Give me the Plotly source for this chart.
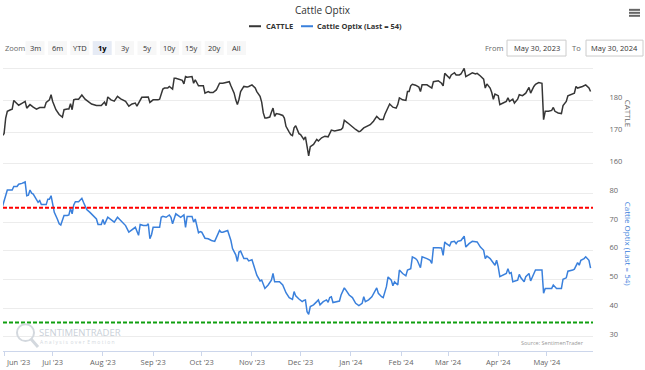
import plotly.graph_objects as go

# ---------------- data ----------------
cattle_dates = [
    "2023-05-31","2023-06-01","2023-06-02","2023-06-03","2023-06-05","2023-06-06","2023-06-07","2023-06-08",
    "2023-06-10","2023-06-12","2023-06-14","2023-06-15","2023-06-17","2023-06-19","2023-06-21","2023-06-23",
    "2023-06-26","2023-06-27","2023-06-29","2023-06-30","2023-07-01","2023-07-03","2023-07-05","2023-07-07",
    "2023-07-08","2023-07-10","2023-07-11","2023-07-12","2023-07-13","2023-07-14","2023-07-15","2023-07-17",
    "2023-07-19","2023-07-21","2023-07-23","2023-07-25","2023-07-28","2023-07-31","2023-08-02","2023-08-03",
    "2023-08-04","2023-08-06","2023-08-08","2023-08-10","2023-08-12","2023-08-15","2023-08-17","2023-08-19",
    "2023-08-21","2023-08-22","2023-08-25","2023-08-28","2023-08-29","2023-08-30","2023-09-01","2023-09-04",
    "2023-09-05","2023-09-07","2023-09-08","2023-09-10","2023-09-11","2023-09-13","2023-09-14","2023-09-15",
    "2023-09-17","2023-09-19","2023-09-20","2023-09-21","2023-09-22","2023-09-25","2023-09-26","2023-09-27",
    "2023-09-29","2023-10-01","2023-10-02","2023-10-03","2023-10-05","2023-10-06","2023-10-08","2023-10-10",
    "2023-10-12","2023-10-14","2023-10-16","2023-10-18","2023-10-19","2023-10-21","2023-10-22","2023-10-23",
    "2023-10-24","2023-10-25","2023-10-27","2023-10-29","2023-10-30","2023-11-01","2023-11-03","2023-11-04",
    "2023-11-06","2023-11-07","2023-11-08","2023-11-09","2023-11-10","2023-11-12","2023-11-13","2023-11-14",
    "2023-11-15","2023-11-16","2023-11-18","2023-11-20","2023-11-21","2023-11-22","2023-11-24","2023-11-25",
    "2023-11-26","2023-11-27","2023-11-28","2023-11-29","2023-11-30","2023-12-01","2023-12-03","2023-12-04",
    "2023-12-05","2023-12-06","2023-12-07","2023-12-09","2023-12-11","2023-12-12","2023-12-14","2023-12-16",
    "2023-12-18","2023-12-20","2023-12-22","2023-12-24","2023-12-26","2023-12-27","2023-12-28","2023-12-30",
    "2024-01-02","2024-01-04","2024-01-06","2024-01-07","2024-01-09","2024-01-11","2024-01-13","2024-01-15",
    "2024-01-17","2024-01-19","2024-01-21","2024-01-22","2024-01-24","2024-01-25","2024-01-27","2024-01-29",
    "2024-01-30","2024-01-31","2024-02-02","2024-02-04","2024-02-05","2024-02-06","2024-02-07","2024-02-08",
    "2024-02-10","2024-02-12","2024-02-13","2024-02-14","2024-02-17","2024-02-19","2024-02-20","2024-02-21",
    "2024-02-24","2024-02-26","2024-02-27","2024-02-28","2024-02-29","2024-03-02","2024-03-03","2024-03-05",
    "2024-03-06","2024-03-07","2024-03-08","2024-03-09","2024-03-11","2024-03-12","2024-03-14","2024-03-16",
    "2024-03-18","2024-03-19","2024-03-21","2024-03-23","2024-03-24","2024-03-25","2024-03-27","2024-03-28",
    "2024-03-29","2024-03-30","2024-04-01","2024-04-02","2024-04-04","2024-04-06","2024-04-07","2024-04-08",
    "2024-04-10","2024-04-11","2024-04-13","2024-04-14","2024-04-16","2024-04-18","2024-04-20","2024-04-21",
    "2024-04-23","2024-04-24","2024-04-26","2024-04-28","2024-04-29","2024-04-30","2024-05-02","2024-05-04",
    "2024-05-05","2024-05-06","2024-05-08","2024-05-10","2024-05-11","2024-05-12","2024-05-13","2024-05-14",
    "2024-05-17","2024-05-18","2024-05-19","2024-05-20","2024-05-23","2024-05-25","2024-05-27","2024-05-28",
]
cattle_values = [
    168.9,169.5,174.4,176.5,177.0,177.2,179.9,179.3,
    178.4,179.0,179.6,177.5,178.6,177.8,177.2,177.7,
    177.7,179.3,180.1,181.7,179.6,177.0,175.5,174.7,
    177.0,177.2,177.2,178.9,177.0,180.1,180.3,180.3,
    181.6,180.3,179.6,178.8,178.3,178.3,179.4,178.3,
    181.0,180.1,179.7,181.2,180.4,179.6,178.1,178.8,
    179.1,178.1,180.9,181.0,181.0,179.3,180.1,180.1,
    180.3,183.5,183.8,183.8,184.3,183.5,186.9,186.9,
    186.6,186.2,185.1,187.4,187.2,187.4,185.3,186.4,
    184.5,184.5,184.5,182.2,182.7,182.4,182.4,183.2,
    185.3,185.3,185.5,185.8,184.5,182.2,180.1,178.6,
    180.3,182.7,184.3,184.1,184.3,184.8,183.8,182.7,
    181.2,179.4,176.0,174.4,174.4,174.7,176.2,177.5,
    174.9,175.8,175.6,175.2,174.4,171.8,170.0,169.2,
    168.9,171.3,172.0,170.8,169.5,169.2,167.7,168.5,
    164.6,162.5,165.4,166.1,167.7,167.2,168.2,168.7,
    168.5,170.6,170.3,170.5,170.8,171.3,173.7,172.9,
    171.5,170.8,170.1,170.3,171.3,171.8,172.3,173.4,
    174.9,173.9,173.9,175.5,178.1,178.8,177.8,177.5,
    178.6,180.7,180.1,179.9,182.7,182.7,184.5,185.0,
    184.7,184.1,182.7,184.8,184.8,184.1,183.8,185.8,
    186.1,185.3,184.5,188.4,187.9,186.9,187.9,188.6,
    187.9,187.9,187.9,188.2,190.0,187.4,187.9,188.6,
    188.2,188.4,187.6,186.6,183.8,185.1,183.8,182.4,
    180.3,181.9,181.4,178.6,179.1,179.6,180.7,179.6,
    180.3,179.1,180.3,181.7,181.4,182.2,184.0,182.2,
    184.3,185.0,185.5,185.3,173.9,176.5,176.5,176.8,
    177.7,176.5,176.0,175.8,178.3,178.9,179.6,181.4,
    181.9,182.2,184.3,183.8,184.3,184.8,183.8,182.7,
]

optix_dates = [
    "2023-05-31","2023-06-02","2023-06-03","2023-06-06","2023-06-07","2023-06-09","2023-06-10","2023-06-12",
    "2023-06-14","2023-06-15","2023-06-16","2023-06-17","2023-06-18","2023-06-19","2023-06-21","2023-06-22",
    "2023-06-23","2023-06-24","2023-06-25","2023-06-27","2023-06-28","2023-06-29","2023-06-30","2023-07-01",
    "2023-07-02","2023-07-04","2023-07-05","2023-07-06","2023-07-08","2023-07-10","2023-07-11","2023-07-12",
    "2023-07-13","2023-07-14","2023-07-15","2023-07-17","2023-07-19","2023-07-20","2023-07-22","2023-07-24",
    "2023-07-26","2023-07-28","2023-07-29","2023-07-31","2023-08-01","2023-08-02","2023-08-04","2023-08-06",
    "2023-08-08","2023-08-10","2023-08-12","2023-08-15","2023-08-17","2023-08-19","2023-08-21","2023-08-23",
    "2023-08-24","2023-08-26","2023-08-28","2023-08-29","2023-08-30","2023-08-31","2023-09-01","2023-09-02",
    "2023-09-05","2023-09-06","2023-09-07","2023-09-09","2023-09-11","2023-09-12","2023-09-13","2023-09-15",
    "2023-09-16","2023-09-18","2023-09-20","2023-09-21","2023-09-22","2023-09-25","2023-09-26","2023-09-27",
    "2023-09-29","2023-09-30","2023-10-01","2023-10-03","2023-10-05","2023-10-07","2023-10-09","2023-10-12",
    "2023-10-13","2023-10-14","2023-10-17","2023-10-19","2023-10-20","2023-10-22","2023-10-23","2023-10-24",
    "2023-10-25","2023-10-27","2023-10-29","2023-10-30","2023-11-01","2023-11-03","2023-11-04","2023-11-06",
    "2023-11-07","2023-11-09","2023-11-11","2023-11-13","2023-11-14","2023-11-15","2023-11-18","2023-11-20",
    "2023-11-22","2023-11-24","2023-11-26","2023-11-27","2023-11-28","2023-11-30","2023-12-02","2023-12-03",
    "2023-12-04","2023-12-05","2023-12-06","2023-12-07","2023-12-09","2023-12-11","2023-12-12","2023-12-13",
    "2023-12-15","2023-12-17","2023-12-18","2023-12-19","2023-12-20","2023-12-21","2023-12-23","2023-12-25",
    "2023-12-26","2023-12-28","2023-12-29","2023-12-31","2024-01-02","2024-01-04","2024-01-06","2024-01-08",
    "2024-01-09","2024-01-10","2024-01-12","2024-01-14","2024-01-17","2024-01-18","2024-01-20","2024-01-21",
    "2024-01-23","2024-01-24","2024-01-26","2024-01-27","2024-01-28","2024-01-30","2024-01-31","2024-02-02",
    "2024-02-04","2024-02-05","2024-02-07","2024-02-08","2024-02-10","2024-02-11","2024-02-13","2024-02-14",
    "2024-02-17","2024-02-19","2024-02-20","2024-02-21","2024-02-24","2024-02-26","2024-02-27","2024-02-28",
    "2024-02-29","2024-03-02","2024-03-03","2024-03-05","2024-03-06","2024-03-07","2024-03-09","2024-03-11",
    "2024-03-12","2024-03-14","2024-03-16","2024-03-19","2024-03-21","2024-03-23","2024-03-24","2024-03-25",
    "2024-03-27","2024-03-29","2024-03-30","2024-03-31","2024-04-01","2024-04-02","2024-04-04","2024-04-06",
    "2024-04-07","2024-04-08","2024-04-09","2024-04-10","2024-04-13","2024-04-14","2024-04-15","2024-04-17",
    "2024-04-18","2024-04-20","2024-04-21","2024-04-23","2024-04-24","2024-04-26","2024-04-28","2024-04-29",
    "2024-04-30","2024-05-02","2024-05-04","2024-05-05","2024-05-07","2024-05-10","2024-05-11","2024-05-13",
    "2024-05-14","2024-05-17","2024-05-18","2024-05-20","2024-05-21","2024-05-22","2024-05-24","2024-05-25",
    "2024-05-27","2024-05-28",
]
optix_values = [
    75.4,79.4,81.2,81.2,82.4,82.4,83.2,83.5,
    84.0,79.2,79.4,81.2,80.1,79.8,78.0,76.9,
    77.5,76.1,76.1,76.1,78.0,78.0,79.2,75.7,
    73.4,70.9,69.4,69.0,72.3,72.3,72.5,74.8,
    72.9,76.0,77.1,77.1,78.3,76.9,74.4,73.4,
    72.3,71.1,69.2,69.2,70.9,69.2,71.7,70.8,
    70.0,71.7,70.5,68.8,66.5,67.4,68.2,65.4,
    69.2,68.8,68.8,69.4,64.2,65.6,68.2,68.2,
    68.2,71.7,72.0,71.7,72.5,71.7,69.4,72.9,
    72.5,71.7,72.5,68.2,72.0,72.0,70.0,71.1,
    66.3,66.7,66.5,64.4,64.2,63.6,63.3,67.1,
    66.5,66.5,67.1,63.6,60.8,58.6,56.3,59.6,
    59.9,57.3,57.3,56.5,56.9,53.3,51.5,49.5,
    49.8,46.9,48.1,49.8,52.1,49.2,49.2,48.1,
    45.4,43.7,43.1,45.8,44.3,43.2,42.3,42.7,
    42.9,38.8,37.9,40.6,41.2,42.3,42.9,41.2,
    42.3,42.9,42.1,43.7,44.0,42.0,42.3,42.5,
    44.6,47.1,46.3,44.6,43.7,41.7,40.9,41.7,
    44.0,42.3,42.9,44.0,47.1,45.2,44.0,43.7,
    47.5,50.9,49.8,47.8,49.2,48.1,53.3,52.1,
    51.3,53.3,53.8,57.9,57.3,56.7,54.1,57.9,
    57.3,56.7,55.6,61.1,61.1,61.0,58.4,63.1,
    62.5,61.7,63.1,63.3,62.5,63.3,63.6,65.1,
    61.3,62.5,63.3,63.1,61.3,60.2,57.3,58.2,
    57.3,55.9,55.0,56.7,54.4,51.0,51.5,52.1,
    53.8,52.1,52.4,49.2,49.8,51.8,50.6,49.2,
    51.0,52.1,49.5,52.4,53.3,53.3,53.3,45.2,
    46.9,46.9,46.9,48.1,46.9,46.9,50.1,50.6,
    52.9,53.3,53.6,55.9,55.0,56.7,57.3,57.9,
    56.7,54.0,
]

upper_band = 75
lower_band = 35
last_value = 54

month_ticks = ["2023-06-01","2023-07-01","2023-08-01","2023-09-01","2023-10-01","2023-11-01",
               "2023-12-01","2024-01-01","2024-02-01","2024-03-01","2024-04-01","2024-05-01"]
month_labels = ["Jun '23","Jul '23","Aug '23","Sep '23","Oct '23","Nov '23",
                "Dec '23","Jan '24","Feb '24","Mar '24","Apr '24","May '24"]
cattle_ticks = [160, 170, 180, 190]
cattle_tick_labels = ["160", "170", "180", ""]
optix_ticks = [30, 40, 50, 60, 70, 80]
zoom_buttons = ["3m", "6m", "YTD", "1y", "3y", "5y", "10y", "15y", "20y", "All"]
selected_button = "1y"
from_date = "May 30, 2023"
to_date = "May 30, 2024"

# ---------------- layout helpers ----------------
W, H = 645, 370
L, R, T, B = 3, 593, 60, 353
PW, PH = R - L, B - T


def px(x):
    return (x - L) / PW


def py(y):
    return (B - y) / PH


FONT = "Open Sans, DejaVu Sans, sans-serif"
CATTLE_COLOR = "#363636"
OPTIX_COLOR = "#3a80dc"

fig = go.Figure()
fig.add_trace(go.Scatter(x=cattle_dates, y=cattle_values, mode="lines", name="CATTLE",
                         line=dict(color=CATTLE_COLOR, width=1.5), xaxis="x", yaxis="y"))
fig.add_trace(go.Scatter(x=optix_dates, y=optix_values, mode="lines",
                         name=f"Cattle Optix (Last = {last_value})",
                         line=dict(color=OPTIX_COLOR, width=1.5), xaxis="x", yaxis="y2"))

shapes = [
    dict(type="line", xref="x domain", yref="y2", x0=0, x1=1, y0=upper_band, y1=upper_band,
         line=dict(color="#ff0000", width=2, dash="4px,2px")),
    dict(type="line", xref="x domain", yref="y2", x0=0, x1=1, y0=lower_band, y1=lower_band,
         line=dict(color="#10a010", width=2, dash="4px,2px")),
]

annotations = []

# rotated axis titles on the right
annotations.append(dict(text="CATTLE", xref="paper", yref="paper", x=px(628), y=py(114),
                        xanchor="center", yanchor="middle",
                        textangle=90, showarrow=False, font=dict(size=8, color="#666666", family=FONT)))
annotations.append(dict(text=f"Cattle Optix (Last = {last_value})", xref="paper", yref="paper",
                        x=px(628), y=py(245), xanchor="center", yanchor="middle",
                        textangle=90, showarrow=False,
                        font=dict(size=8, color=OPTIX_COLOR, family=FONT)))

# first month label kept inside like Highcharts
annotations.append(dict(text=month_labels[0], xref="x", yref="paper", x=month_ticks[0], y=py(364),
                        xanchor="left", yanchor="middle", showarrow=False,
                        font=dict(size=7.5, color="#666666", family=FONT)))

# legend (manual)
shapes.append(dict(type="line", xref="paper", yref="paper", x0=px(249), x1=px(261), y0=py(26), y1=py(26),
                   line=dict(color=CATTLE_COLOR, width=2)))
annotations.append(dict(text="<b>CATTLE</b>", xref="paper", yref="paper", x=px(264), y=py(26),
                        xanchor="left", yanchor="middle", showarrow=False,
                        font=dict(size=7.5, color="#333333", family=FONT)))
shapes.append(dict(type="line", xref="paper", yref="paper", x0=px(301), x1=px(313), y0=py(26), y1=py(26),
                   line=dict(color=OPTIX_COLOR, width=2)))
annotations.append(dict(text=f"<b>Cattle Optix (Last = {last_value})</b>", xref="paper", yref="paper",
                        x=px(315), y=py(26), xanchor="left", yanchor="middle", showarrow=False,
                        font=dict(size=7.5, color="#333333", family=FONT)))

# range selector imitation
annotations.append(dict(text="Zoom", xref="paper", yref="paper", x=px(3), y=py(48), xanchor="left",
                        yanchor="middle", showarrow=False, font=dict(size=7.5, color="#666666", family=FONT)))
for i, lab in enumerate(zoom_buttons):
    cx = 35 + i * 22.4
    sel = lab == selected_button
    shapes.append(dict(type="rect", xref="paper", yref="paper", x0=px(cx - 9.5), x1=px(cx + 9.5),
                       y0=py(55), y1=py(41), line=dict(width=0),
                       fillcolor="#e6ebf5" if sel else "#f7f7f7"))
    annotations.append(dict(text=f"<b>{lab}</b>" if sel else lab, xref="paper", yref="paper", x=px(cx),
                            y=py(48), xanchor="center", yanchor="middle", showarrow=False,
                            font=dict(size=7.5, color="#000000" if sel else "#333333", family=FONT)))

annotations.append(dict(text="From", xref="paper", yref="paper", x=px(494), y=py(48), xanchor="center",
                        yanchor="middle", showarrow=False, font=dict(size=7.5, color="#666666", family=FONT)))
annotations.append(dict(text="To", xref="paper", yref="paper", x=px(576), y=py(48), xanchor="center",
                        yanchor="middle", showarrow=False, font=dict(size=7.5, color="#666666", family=FONT)))
for x0, x1, txt in [(507, 566, from_date), (586, 643, to_date)]:
    shapes.append(dict(type="rect", xref="paper", yref="paper", x0=px(x0), x1=px(x1), y0=py(56), y1=py(40),
                       line=dict(width=1, color="#cccccc"), fillcolor="#ffffff"))
    annotations.append(dict(text=txt, xref="paper", yref="paper", x=px((x0 + x1) / 2), y=py(48),
                            xanchor="center", yanchor="middle", showarrow=False,
                            font=dict(size=7.5, color="#333333", family=FONT)))

# hamburger menu
for yy in (9.5, 12.5, 15.5):
    shapes.append(dict(type="line", xref="paper", yref="paper", x0=px(629), x1=px(640), y0=py(yy), y1=py(yy),
                       line=dict(color="#666666", width=2)))

# watermark
shapes.append(dict(type="circle", xref="paper", yref="paper", x0=px(17), x1=px(34), y0=py(343), y1=py(326),
                   line=dict(color="#d3d8de", width=2)))
shapes.append(dict(type="line", xref="paper", yref="paper", x0=px(31), x1=px(38), y0=py(341), y1=py(349),
                   line=dict(color="#d3d8de", width=3)))
annotations.append(dict(text="SENTIMENTRADER", xref="paper", yref="paper", x=px(37), y=py(334),
                        xanchor="left", yanchor="middle", showarrow=False,
                        font=dict(size=9.5, color="#c9d0d8", family=FONT)))
annotations.append(dict(text="A n a l y s i s  o v e r  E m o t i o n", xref="paper", yref="paper",
                        x=px(38), y=py(344), xanchor="left", yanchor="middle", showarrow=False,
                        font=dict(size=5, color="#d3d8de", family=FONT)))
annotations.append(dict(text="Source: SentimenTrader", xref="paper", yref="paper", x=px(586), y=py(345),
                        xanchor="right", yanchor="middle", showarrow=False,
                        font=dict(size=5.5, color="#999999", family=FONT)))

fig.update_layout(
    width=W, height=H,
    margin=dict(l=L, r=W - R, t=T, b=H - B, pad=0),
    paper_bgcolor="#ffffff", plot_bgcolor="#ffffff",
    showlegend=False,
    title=dict(text="Cattle Optix", x=0.5, xanchor="center", xref="container",
               y=1 - 10.5 / H, yanchor="middle", yref="container",
               font=dict(size=10, color="#333333", family=FONT)),
    font=dict(family=FONT),
    xaxis=dict(
        type="date", domain=[0, 1], anchor="y2",
        range=["2023-05-31 08:00", "2024-05-29 12:00"],
        tickvals=month_ticks, ticktext=[""] + month_labels[1:],
        ticks="outside", ticklen=4, tickcolor="#ccd6eb", tickwidth=1,
        showline=True, linecolor="#ccd6eb", linewidth=1,
        showgrid=False, zeroline=False,
        tickfont=dict(size=7.5, color="#666666", family=FONT),
    ),
    yaxis=dict(
        domain=[py(172), 1], anchor="x", side="right",
        range=[157.7, 192.6], tickvals=cattle_ticks, ticktext=cattle_tick_labels,
        showgrid=True, gridcolor="#ececec", gridwidth=1, zeroline=False, showline=False,
        ticks="outside", ticklen=14, tickcolor="rgba(0,0,0,0)", ticklabelshift=-3,
        tickfont=dict(size=7.5, color="#666666", family=FONT),
    ),
    yaxis2=dict(
        domain=[0, py(177)], anchor="x", side="right",
        range=[25.1, 86.0], tickvals=optix_ticks,
        showgrid=True, gridcolor="#ececec", gridwidth=1, zeroline=False, showline=False,
        ticks="outside", ticklen=14, tickcolor="rgba(0,0,0,0)", ticklabelshift=-3,
        tickfont=dict(size=7.5, color="#666666", family=FONT),
    ),
    shapes=shapes,
    annotations=annotations,
    hovermode=False,
)

fig.write_html(
    "out.html",
    config={"displayModeBar": False},
    post_script="document.documentElement.style.margin='0';document.body.style.margin='0';"
                "document.body.style.overflow='hidden';",
)
